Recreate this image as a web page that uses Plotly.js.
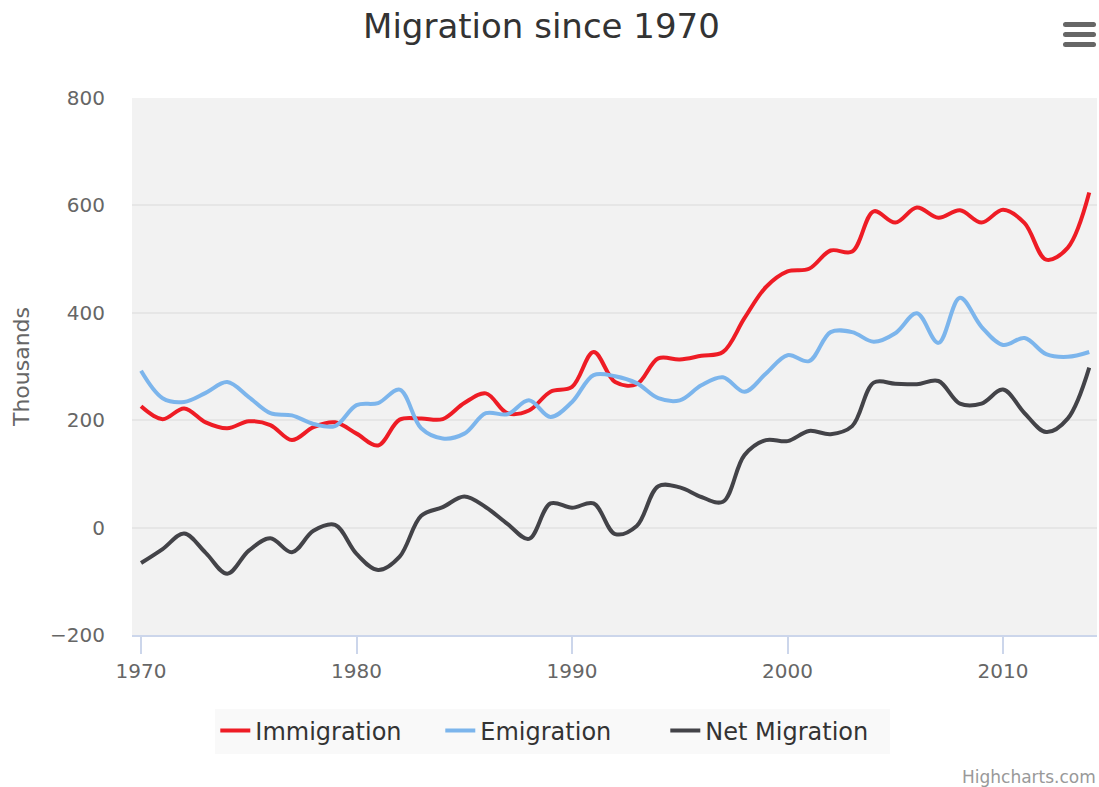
<!DOCTYPE html>
<html>
<head>
<meta charset="utf-8">
<script src="https://cdn.plot.ly/plotly-3.0.1.min.js"></script>
<style>
  html, body { margin: 0; padding: 0; background: #ffffff; }
  #wrap { position: relative; width: 1099px; height: 787px; }
  #chart { width: 1099px; height: 787px; }
  .bar { position: absolute; left: 1063px; width: 33px; height: 5px; border-radius: 3px; background: #666666; }
</style>
</head>
<body>
<div id="wrap">
  <div id="chart"></div>
  <div class="bar" style="top:22px"></div>
  <div class="bar" style="top:32px"></div>
  <div class="bar" style="top:42px"></div>
</div>
<script>
const years = [1970,1971,1972,1973,1974,1975,1976,1977,1978,1979,
               1980,1981,1982,1983,1984,1985,1986,1987,1988,1989,
               1990,1991,1992,1993,1994,1995,1996,1997,1998,1999,
               2000,2001,2002,2003,2004,2005,2006,2007,2008,2009,
               2010,2011,2012,2013,2014];

const immigration = [226,202,222,196,185,198,191,163,187,196,
                     175,153,201,203,202,232,250,213,218,253,
                     262,327,271,267,315,313,320,327,390,448,
                     477,482,516,514,589,568,596,577,591,568,
                     592,567,499,521,624];

const emigration = [292,241,234,251,271,243,213,209,193,189,
                    228,232,257,185,166,175,213,211,237,206,
                    234,284,282,269,241,237,265,280,253,287,
                    321,310,364,364,346,362,399,344,428,374,
                    340,353,323,318,327];

const netMigration = [-66,-40,-11,-47,-86,-43,-20,-46,-6,5,
                      -49,-79,-54,22,38,58,38,7,-21,45,
                      37,45,-12,3,77,75,57,48,135,163,
                      161,180,174,189,270,268,267,273,231,231,
                      257,213,178,203,298];

const seriesNames = ['Immigration', 'Emigration', 'Net Migration'];
const seriesColors = ['#ee1c25', '#7cb5ec', '#434348'];
const seriesData = [immigration, emigration, netMigration];

const FONT = '"DejaVu Sans", Verdana, sans-serif';

const traces = seriesData.map((vals, i) => ({
  type: 'scatter',
  mode: 'lines',
  name: seriesNames[i],
  x: years,
  y: vals,
  line: { color: seriesColors[i], width: 4, shape: 'spline', smoothing: 1 },
  hoverinfo: 'x+y+name'
}));

const layout = {
  width: 1099,
  height: 787,
  margin: { l: 132, r: 2, t: 98, b: 152 },
  paper_bgcolor: '#ffffff',
  plot_bgcolor: '#f2f2f2',
  font: { family: FONT, color: '#666666', size: 20 },
  title: {
    text: 'Migration since 1970',
    font: { family: FONT, size: 34, color: '#333333' },
    x: 0.4927, xref: 'container', xanchor: 'center',
    y: 1 - 26/787, yref: 'container', yanchor: 'middle'
  },
  xaxis: {
    range: [1969.58, 2014.36],
    tickmode: 'array',
    tickvals: [1970, 1980, 1990, 2000, 2010],
    ticktext: ['1970', '1980', '1990', '2000', '2010'],
    ticks: 'outside',
    ticklen: 17,
    tickwidth: 2,
    tickcolor: '#ccd6eb',
    showline: true,
    linecolor: '#ccd6eb',
    linewidth: 2,
    showgrid: false,
    zeroline: false,
    tickfont: { family: FONT, size: 20, color: '#666666' },
    fixedrange: true
  },
  yaxis: {
    range: [-200, 800],
    tickmode: 'array',
    tickvals: [-200, 0, 200, 400, 600, 800],
    ticks: '',
    ticklabelstandoff: 26,
    showgrid: true,
    gridcolor: '#e6e6e6',
    gridwidth: 2,
    zeroline: false,
    showline: false,
    tickfont: { family: FONT, size: 20, color: '#666666' },
    title: { text: 'Thousands', font: { family: FONT, size: 22, color: '#666666' }, standoff: 14 },
    fixedrange: true
  },
  showlegend: true,
  legend: {
    orientation: 'h',
    x: 0.503, xref: 'container', xanchor: 'center',
    y: (787 - 731) / 787, yref: 'container', yanchor: 'middle',
    font: { family: FONT, size: 24, color: '#333333' },
    bgcolor: '#f9f9f9',
    borderwidth: 0,
    itemwidth: 30,
    entrywidth: 180,
    entrywidthmode: 'pixels'
  },
  annotations: [{
    text: 'Highcharts.com',
    xref: 'paper', yref: 'paper',
    x: 1.001, y: (635 - 777) / 537,
    xanchor: 'right', yanchor: 'middle',
    showarrow: false,
    font: { family: FONT, size: 17, color: '#999999' }
  }]
};

Plotly.newPlot('chart', traces, layout, { displayModeBar: false, responsive: false });
</script>
</body>
</html>
